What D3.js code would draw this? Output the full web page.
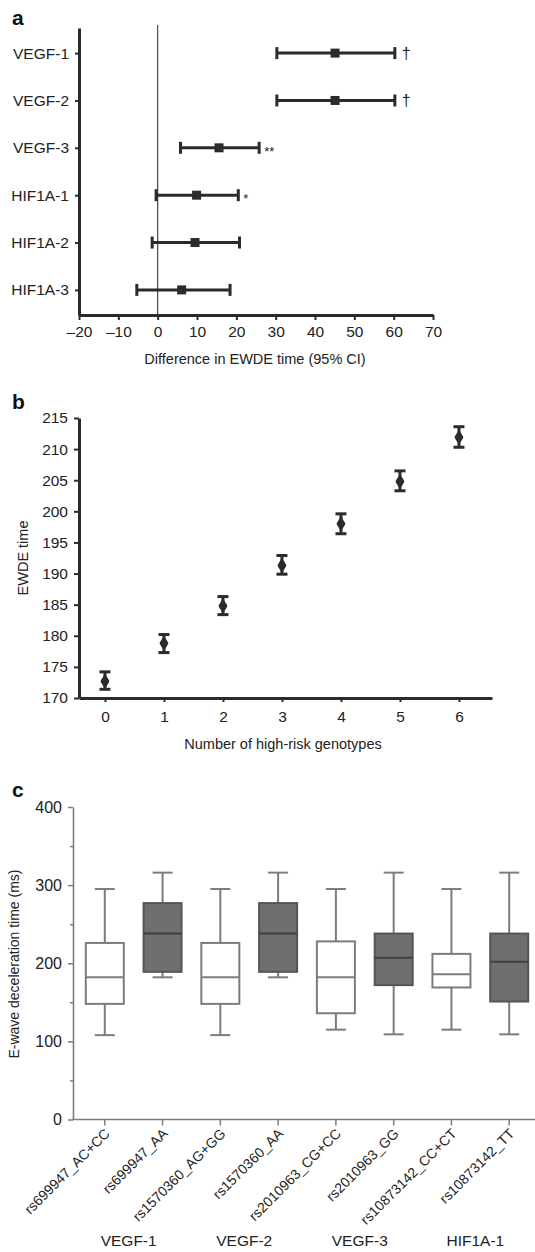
<!DOCTYPE html>
<html><head><meta charset="utf-8">
<script src="https://cdn.jsdelivr.net/npm/d3@7"></script>
<style>
body{margin:0;background:#fff;}
svg{display:block;font-family:"Liberation Sans",Arial,sans-serif;}
</style></head>
<body><svg id="c" width="535" height="1252"></svg>
<script>
// ---- Panel a data ----
const catsA = ["VEGF-1","VEGF-2","VEGF-3","HIF1A-1","HIF1A-2","HIF1A-3"];
const meanA = [45.1,45.1,15.6,9.9,9.5,6.1];
const lowA  = [30.3,30.3,5.8,-0.4,-1.4,-5.3];
const highA = [60.3,60.3,25.8,20.5,20.8,18.4];
const sigA  = ["†","†","**","*","",""];
const ticksA = [-20,-10,0,10,20,30,40,50,60,70];
// ---- Panel b data ----
const numB  = [0,1,2,3,4,5,6];
const meanB = [172.7,178.8,184.8,191.3,198.0,204.8,211.9];
const lowB  = [171.4,177.3,183.4,189.9,196.4,203.3,210.3];
const highB = [174.2,180.2,186.3,192.9,199.6,206.5,213.6];
const ticksB = [170,175,180,185,190,195,200,205,210,215];
// ---- Panel c data ----
const genoC = ["rs699947_AC+CC","rs699947_AA","rs1570360_AG+GG","rs1570360_AA","rs2010963_CG+CC","rs2010963_GG","rs10873142_CC+CT","rs10873142_TT"];
const geneC = ["VEGF-1","VEGF-2","VEGF-3","HIF1A-1"];
const riskC = [false,true,false,true,false,true,false,true];
const loC  = [108,182,108,182,115,109,115,109];
const q1C  = [148,189,148,189,136,172,169,151];
const medC = [182,238,182,238,182,207,186,202];
const q3C  = [226,277,226,277,228,238,212,238];
const hiC  = [295,316,295,316,295,316,295,316];
const ticksC = [0,100,200,300,400];
const minorC = [50,150,250,350];

const svg = d3.select("#c");
const ink = "#2b2b2b";
const FF = "Liberation Sans, Arial, sans-serif";

// panel letters
[["a",25],["b",409],["c",797]].forEach(([t,y])=>{
  svg.append("text").attr("x",12).attr("y",y).attr("font-size",21).attr("font-weight","bold").attr("fill","#111").text(t);
});

// ================= Panel a =================
const xA = d3.scaleLinear().domain([-20,70]).range([79,433]);
const yA = d3.scalePoint().domain(catsA).range([28,315]).padding(0.53);
const gA = svg.append("g");
gA.append("line").attr("x1",xA(0)).attr("x2",xA(0)).attr("y1",25).attr("y2",315)
  .attr("stroke","#444").attr("stroke-width",1.2);
const axAy = gA.append("g").attr("transform","translate(79,0)")
  .call(d3.axisLeft(yA).tickSize(4).tickSizeOuter(0).tickPadding(6));
const axAx = gA.append("g").attr("transform","translate(0,315)")
  .call(d3.axisBottom(xA).tickValues(ticksA).tickSize(5).tickSizeOuter(0).tickPadding(6)
    .tickFormat(d=> d<0 ? "–"+Math.abs(d) : String(d)));
[axAy,axAx].forEach(a=>{
  a.select(".domain").attr("stroke",ink).attr("stroke-width",3);
  a.selectAll(".tick line").attr("stroke",ink).attr("stroke-width",2);
  a.selectAll(".tick text").attr("fill","#222").attr("font-size",15.5).attr("font-family",FF);
});
gA.append("text").attr("x",255).attr("y",364).attr("text-anchor","middle").attr("font-size",14.5).attr("fill","#222")
  .text("Difference in EWDE time (95% CI)");
catsA.forEach((c,i)=>{
  const y = yA(c);
  gA.append("line").attr("x1",xA(lowA[i])).attr("x2",xA(highA[i])).attr("y1",y).attr("y2",y).attr("stroke",ink).attr("stroke-width",3);
  [lowA[i],highA[i]].forEach(v=>gA.append("line").attr("x1",xA(v)).attr("x2",xA(v)).attr("y1",y-6).attr("y2",y+6).attr("stroke",ink).attr("stroke-width",3));
  gA.append("rect").attr("x",xA(meanA[i])-4.5).attr("y",y-4.5).attr("width",9).attr("height",9).attr("fill",ink);
  if(sigA[i]) gA.append("text").attr("x",xA(highA[i])+(sigA[i]==="†"?7:5)).attr("y",y+(sigA[i]==="†"?6:8)).attr("font-size",sigA[i]==="†"?16:13).attr("fill","#222").text(sigA[i]);
});

// ================= Panel b =================
const xB = d3.scaleLinear().domain([-0.44,6.56]).range([79,492]);
const yB = d3.scaleLinear().domain([170,215]).range([698,418]);
const gB = svg.append("g");
const axBy = gB.append("g").attr("transform","translate(79,0)")
  .call(d3.axisLeft(yB).tickValues(ticksB).tickSize(5).tickSizeOuter(0).tickPadding(6));
const axBx = gB.append("g").attr("transform","translate(0,698)")
  .call(d3.axisBottom(xB).tickValues(numB).tickSize(4).tickSizeOuter(0).tickPadding(9).tickFormat(d3.format("d")));
[axBy,axBx].forEach(a=>{
  a.select(".domain").attr("stroke",ink).attr("stroke-width",3);
  a.selectAll(".tick line").attr("stroke",ink).attr("stroke-width",2);
  a.selectAll(".tick text").attr("fill","#222").attr("font-size",15.5).attr("font-family",FF);
});
gB.append("text").attr("x",283).attr("y",749).attr("text-anchor","middle").attr("font-size",14.5).attr("fill","#222")
  .text("Number of high-risk genotypes");
gB.append("text").attr("transform","translate(28,558) rotate(-90)").attr("text-anchor","middle").attr("font-size",14.5).attr("fill","#222")
  .text("EWDE time");
numB.forEach((n,i)=>{
  const x = xB(n);
  gB.append("line").attr("x1",x).attr("x2",x).attr("y1",yB(lowB[i])).attr("y2",yB(highB[i])).attr("stroke",ink).attr("stroke-width",3);
  [lowB[i],highB[i]].forEach(v=>gB.append("line").attr("x1",x-5.5).attr("x2",x+5.5).attr("y1",yB(v)).attr("y2",yB(v)).attr("stroke",ink).attr("stroke-width",3));
  gB.append("path").attr("transform",`translate(${x},${yB(meanB[i])})`)
    .attr("d",d3.symbol().type(d3.symbolDiamond).size(70)).attr("fill",ink);
  gB.append("circle").attr("cx",x).attr("cy",yB(meanB[i])).attr("r",3.6).attr("fill",ink);
});

// ================= Panel c =================
const xC = d3.scalePoint().domain(genoC).range([73,541]).padding(0.55);
const yC = d3.scaleLinear().domain([0,400]).range([1119.5,807]);
const gC = svg.append("g");
const grey = "#7c7c7c";
const axCy = gC.append("g").attr("transform","translate(73,0)")
  .call(d3.axisLeft(yC).tickValues(ticksC).tickSize(5).tickSizeOuter(0).tickPadding(6));
gC.append("g").attr("transform","translate(73,0)")
  .call(d3.axisLeft(yC).tickValues(minorC).tickSize(3).tickSizeOuter(0).tickFormat(""))
  .call(a=>{a.select(".domain").remove();a.selectAll(".tick line").attr("stroke",grey).attr("stroke-width",1.5);});
axCy.select(".domain").attr("stroke",grey).attr("stroke-width",1.6);
axCy.selectAll(".tick line").attr("stroke",grey).attr("stroke-width",1.5);
axCy.selectAll(".tick text").attr("fill","#222").attr("font-size",16).attr("font-family",FF);
gC.append("line").attr("x1",72.2).attr("x2",535).attr("y1",yC(0)).attr("y2",yC(0)).attr("stroke",grey).attr("stroke-width",1.6);
genoC.forEach(g=>{
  gC.append("line").attr("x1",xC(g)).attr("x2",xC(g)).attr("y1",yC(0)).attr("y2",yC(0)+6).attr("stroke",grey).attr("stroke-width",1.5);
  gC.append("text").attr("transform",`translate(${xC(g)+6},${yC(0)+15}) rotate(-45)`).attr("text-anchor","end")
    .attr("font-size",14).attr("font-family",FF).attr("fill","#222").text(g);
});
gC.append("text").attr("transform","translate(19,964) rotate(-90)").attr("text-anchor","middle").attr("font-size",14).attr("fill","#222")
  .text("E-wave deceleration time (ms)");
geneC.forEach((g,i)=>{
  const xm = (xC(genoC[2*i])+xC(genoC[2*i+1]))/2 - 5;
  gC.append("text").attr("x",xm).attr("y",1246).attr("text-anchor","middle").attr("font-size",15.5).attr("fill","#222").text(g);
});
const bw = 38, cw = 20;
genoC.forEach((g,i)=>{
  const x = xC(g);
  const dark = riskC[i];
  const st = dark ? "#555" : grey;
  gC.append("line").attr("x1",x).attr("x2",x).attr("y1",yC(hiC[i])).attr("y2",yC(q3C[i])).attr("stroke",grey).attr("stroke-width",2);
  gC.append("line").attr("x1",x).attr("x2",x).attr("y1",yC(q1C[i])).attr("y2",yC(loC[i])).attr("stroke",grey).attr("stroke-width",2);
  [hiC[i],loC[i]].forEach(v=>gC.append("line").attr("x1",x-cw/2).attr("x2",x+cw/2).attr("y1",yC(v)).attr("y2",yC(v)).attr("stroke",grey).attr("stroke-width",2));
  gC.append("rect").attr("x",x-bw/2).attr("y",yC(q3C[i])).attr("width",bw).attr("height",yC(q1C[i])-yC(q3C[i]))
    .attr("fill",dark?"#6f6f71":"#fff").attr("stroke",st).attr("stroke-width",2);
  gC.append("line").attr("x1",x-bw/2).attr("x2",x+bw/2).attr("y1",yC(medC[i])).attr("y2",yC(medC[i]))
    .attr("stroke",dark?"#3f3f40":grey).attr("stroke-width",2);
});
</script></body></html>
